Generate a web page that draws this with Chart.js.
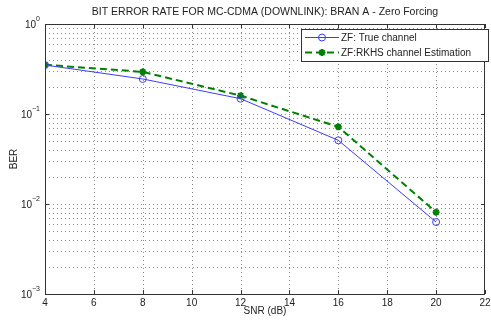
<!DOCTYPE html>
<html>
<head>
<meta charset="utf-8">
<script src="https://cdn.jsdelivr.net/npm/chart.js@4.4.0/dist/chart.umd.min.js"></script>
<style>
html,body{margin:0;padding:0;background:#fff;}
#wrap{width:491px;height:321px;position:relative;}
canvas{display:block;}
</style>
</head>
<body>
<div id="wrap"><canvas id="c" width="491" height="321"></canvas></div>
<script>
// ---- data ----
const snr = [4, 8, 12, 16, 20];
const berTrue = [0.350, 0.245, 0.148, 0.051, 0.0063];
const berRkhs = [0.352, 0.294, 0.160, 0.072, 0.0081];
const xTicks = [4, 6, 8, 10, 12, 14, 16, 18, 20, 22];
const yExponents = [0, -1, -2, -3];
const seriesNames = ['ZF: True channel', 'ZF:RKHS channel Estimation'];
const titleText = 'BIT ERROR RATE FOR MC-CDMA (DOWNLINK): BRAN A - Zero Forcing';
const xTitle = 'SNR (dB)';
const yTitle = 'BER';

const FONT = '"Liberation Sans", Arial, sans-serif';
const TXT = '#222';

function yGridValues() {
  const t = [];
  yExponents.slice().reverse().forEach(e => {
    for (let m = 1; m <= 9; m++) {
      const v = m * Math.pow(10, e);
      if (v <= 1.0000001) t.push(v);
    }
  });
  return t;
}

const gridPlugin = {
  id: 'dottedGrid',
  beforeDatasetsDraw(chart) {
    const ctx = chart.ctx;
    const a = chart.chartArea;
    const xs = chart.scales.x, ys = chart.scales.y;
    ctx.save();
    ctx.strokeStyle = '#8a8a8a';
    ctx.lineWidth = 1;
    ctx.setLineDash([1, 3]);
    ctx.beginPath();
    xTicks.forEach(v => {
      const px = Math.round(xs.getPixelForValue(v)) + 0.5;
      if (px > a.left + 1 && px < a.right - 1) { ctx.moveTo(px, a.top); ctx.lineTo(px, a.bottom); }
    });
    yGridValues().forEach(v => {
      const py = Math.round(ys.getPixelForValue(v)) + 0.5;
      if (py > a.top + 1 && py < a.bottom - 1) { ctx.moveTo(a.left, py); ctx.lineTo(a.right, py); }
    });
    ctx.stroke();
    ctx.restore();
  }
};

const overlay = {
  id: 'overlay',
  afterDraw(chart) {
    const ctx = chart.ctx;
    const a = chart.chartArea;
    const xs = chart.scales.x, ys = chart.scales.y;
    ctx.save();
    // frame
    ctx.strokeStyle = '#333';
    ctx.lineWidth = 1;
    ctx.setLineDash([]);
    ctx.strokeRect(Math.round(a.left) + 0.5, Math.round(a.top) + 0.5, Math.round(a.right - a.left) - 1, Math.round(a.bottom - a.top));
    // tick marks inward
    ctx.beginPath();
    xTicks.forEach(v => {
      const px = Math.round(xs.getPixelForValue(v)) + 0.5;
      ctx.moveTo(px, a.bottom); ctx.lineTo(px, a.bottom - 4);
      ctx.moveTo(px, a.top); ctx.lineTo(px, a.top + 4);
    });
    yExponents.forEach(e => {
      const py = Math.round(ys.getPixelForValue(Math.pow(10, e))) + 0.5;
      ctx.moveTo(a.left, py); ctx.lineTo(a.left + 4, py);
      ctx.moveTo(a.right, py); ctx.lineTo(a.right - 4, py);
    });
    ctx.stroke();
    // x tick labels
    ctx.fillStyle = TXT;
    ctx.font = '10px ' + FONT;
    ctx.textAlign = 'center';
    ctx.textBaseline = 'middle';
    xTicks.forEach(v => {
      ctx.fillText(String(v), xs.getPixelForValue(v), a.bottom + 9);
    });
    // y tick labels 10^e
    yExponents.forEach(e => {
      const py = ys.getPixelForValue(Math.pow(10, e));
      ctx.font = '7px ' + FONT;
      ctx.textAlign = 'right';
      const sup = String(e).replace('-', '\u2212');
      const sw = ctx.measureText(sup).width;
      ctx.fillText(sup, a.left - 5, py - 5);
      ctx.font = '10px ' + FONT;
      ctx.fillText('10', a.left - 5 - sw, py + 1);
    });
    // title
    ctx.font = '10.5px ' + FONT;
    ctx.textAlign = 'center';
    ctx.fillText(titleText, (a.left + a.right) / 2, 12);
    // x title
    ctx.font = '10px ' + FONT;
    ctx.fillText(xTitle, (a.left + a.right) / 2, 311);
    // y title
    ctx.save();
    ctx.translate(14, (a.top + a.bottom) / 2);
    ctx.rotate(-Math.PI / 2);
    ctx.fillText(yTitle, 0, 0);
    ctx.restore();
    // legend
    const lx = 301, ly = 29, lw = 187, lh = 32;
    ctx.fillStyle = '#fff';
    ctx.fillRect(lx, ly, lw, lh);
    ctx.strokeStyle = '#333';
    ctx.lineWidth = 1;
    ctx.strokeRect(lx + 0.5, ly + 0.5, lw, lh);
    chart.data.datasets.forEach((ds, i) => {
      const yy = ly + 8.5 + i * 15;
      ctx.strokeStyle = ds.borderColor;
      ctx.lineWidth = ds.borderWidth;
      ctx.setLineDash(ds.borderDash || []);
      ctx.beginPath();
      ctx.moveTo(lx + 4, yy); ctx.lineTo(lx + 38, yy);
      ctx.stroke();
      ctx.setLineDash([]);
      ctx.strokeStyle = ds.pointBorderColor;
      ctx.fillStyle = ds.pointBackgroundColor;
      Chart.helpers.drawPoint(ctx, {
        pointStyle: ds.pointStyle, radius: ds.pointRadius, borderWidth: ds.pointBorderWidth
      }, lx + 21, yy);
      ctx.fillStyle = TXT;
      ctx.font = '10px ' + FONT;
      ctx.textAlign = 'left';
      ctx.fillText(ds.label, lx + 40, yy + 0.5);
    });
    ctx.restore();
  }
};

new Chart(document.getElementById('c'), {
  type: 'line',
  data: {
    datasets: [
      {
        label: seriesNames[0],
        data: snr.map((x, i) => ({x, y: berTrue[i]})),
        borderColor: '#3b3bff',
        backgroundColor: 'rgba(0,0,0,0)',
        borderWidth: 1,
        pointStyle: 'circle',
        pointRadius: 3.5,
        pointBorderWidth: 1,
        pointBorderColor: '#3b3bff',
        pointBackgroundColor: 'rgba(0,0,0,0)',
        tension: 0,
      },
      {
        label: seriesNames[1],
        data: snr.map((x, i) => ({x, y: berRkhs[i]})),
        borderColor: '#008000',
        backgroundColor: '#008000',
        borderWidth: 2,
        borderDash: [7, 4],
        pointStyle: 'star',
        pointRadius: 3.5,
        pointBorderWidth: 2,
        pointBorderColor: '#008000',
        pointBackgroundColor: '#008000',
        tension: 0,
      }
    ]
  },
  options: {
    responsive: false,
    animation: false,
    devicePixelRatio: 1,
    layout: { padding: { left: 0, right: 1, top: 24, bottom: 0 } },
    plugins: { legend: { display: false }, title: { display: false }, tooltip: { enabled: false } },
    scales: {
      x: {
        type: 'linear',
        min: 4, max: 22,
        afterBuildTicks(scale) { scale.ticks = xTicks.map(v => ({value: v})); },
        ticks: { display: false },
        grid: { display: false },
        border: { display: false },
        afterFit(scale) { scale.height = 27; }
      },
      y: {
        type: 'logarithmic',
        min: 0.001, max: 1,
        afterBuildTicks(scale) { scale.ticks = yGridValues().map(v => ({value: v})); },
        ticks: { display: false },
        grid: { display: false },
        border: { display: false },
        afterFit(scale) { scale.width = 45; }
      }
    }
  },
  plugins: [gridPlugin, overlay]
});
</script>
</body>
</html>
